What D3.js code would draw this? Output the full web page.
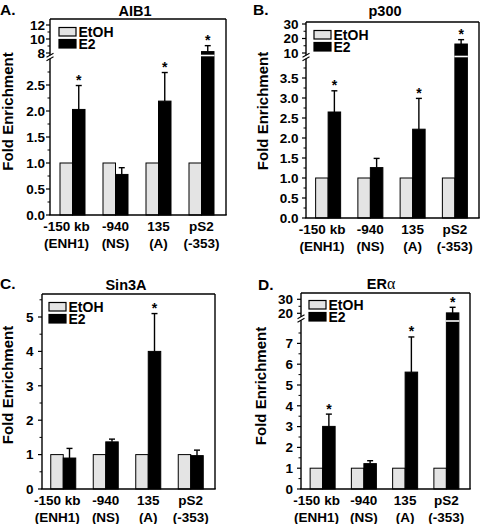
<!DOCTYPE html>
<html><head><meta charset="utf-8">
<script src="https://cdn.jsdelivr.net/npm/d3@7"></script>
<style>
html,body{margin:0;padding:0;background:#fff;}
svg{display:block;font-family:"Liberation Sans",Arial,sans-serif;font-weight:bold;}
</style></head>
<body>
<svg id="chart" width="482" height="524"></svg>
<script>
// ---------- data ----------
const categoriesTop = ["-150 kb", "-940", "135", "pS2"];
const categoriesBottom = ["(ENH1)", "(NS)", "(A)", "(-353)"];
const seriesNames = ["EtOH", "E2"];

// A. AIB1
const aib1EtOH = [1, 1, 1, 1];
const aib1E2 = [2.03, 0.78, 2.19, 8.2];
const aib1E2Err = [0.46, 0.13, 0.55, 0.85];
const aib1Sig = [true, false, true, true];
const aib1TicksLow = [0, 0.5, 1, 1.5, 2, 2.5];
const aib1TickLabelsLow = ["0.0", "0.5", "1.0", "1.5", "2.0", "2.5"];
const aib1TicksHigh = [8, 10, 12];
const aib1TickLabelsHigh = ["8", "10", "12"];

// B. p300
const p300EtOH = [1, 1, 1, 1];
const p300E2 = [2.65, 1.26, 2.22, 16.2];
const p300E2Err = [0.53, 0.23, 0.77, 3.0];
const p300Sig = [true, false, true, true];
const p300TicksLow = [0, 0.5, 1, 1.5, 2, 2.5, 3, 3.5];
const p300TickLabelsLow = ["0.0", "0.5", "1.0", "1.5", "2.0", "2.5", "3.0", "3.5"];
const p300TicksHigh = [10, 20, 30];
const p300TickLabelsHigh = ["10", "20", "30"];

// C. Sin3A
const sin3aEtOH = [1, 1, 1, 1];
const sin3aE2 = [0.9, 1.37, 4.0, 0.97];
const sin3aE2Err = [0.28, 0.08, 1.1, 0.16];
const sin3aSig = [false, false, true, false];
const sin3aTicks = [0, 1, 2, 3, 4, 5];
const sin3aTickLabels = ["0", "1", "2", "3", "4", "5"];

// D. ERα
const eraEtOH = [1, 1, 1, 1];
const eraE2 = [3.01, 1.22, 5.62, 20.3];
const eraE2Err = [0.59, 0.14, 1.69, 4.0];
const eraSig = [true, false, true, true];
const eraTicksLow = [0, 1, 2, 3, 4, 5, 6, 7];
const eraTickLabelsLow = ["0", "1", "2", "3", "4", "5", "6", "7"];
const eraTicksHigh = [20, 30];
const eraTickLabelsHigh = ["20", "30"];

// ---------- layout ----------
const panels = [
  { letter: "A.", letterPos: [0, 15], title: ["AIB1"], titlePos: [135, 15.5],
    box: [50, 19, 226, 215], band: [51, 223], labelGap: 5,
    etoh: aib1EtOH, e2: aib1E2, err: aib1E2Err, sig: aib1Sig,
    low: { domain: [0, 2.5], range: [215, 85], ticks: aib1TicksLow, labels: aib1TickLabelsLow, minorStep: 0.25, max: 2.9 },
    high: { domain: [8, 12], range: [53, 25], ticks: aib1TicksHigh, labels: aib1TickLabelsHigh, minorStep: 1 },
    breakY: 57, barBreakY: 55.5, legend: [59, 27.5], ylab: [13, 111.5] },
  { letter: "B.", letterPos: [253, 15], title: ["p300"], titlePos: [385, 15.5],
    box: [306, 22, 479, 218], band: [307, 476], labelGap: 7.5,
    etoh: p300EtOH, e2: p300E2, err: p300E2Err, sig: p300Sig,
    low: { domain: [0, 3.5], range: [218, 78], ticks: p300TicksLow, labels: p300TickLabelsLow, minorStep: 0.25, max: 3.9 },
    high: { domain: [10, 30], range: [53, 24], ticks: p300TicksHigh, labels: p300TickLabelsHigh, minorStep: 5 },
    breakY: 57, barBreakY: 56.5, legend: [314, 30.5], ylab: [267.5, 111] },
  { letter: "C.", letterPos: [0, 289], title: ["Sin3A"], titlePos: [126, 290],
    box: [42, 294, 215, 489], band: [42, 212], labelGap: 8.5,
    etoh: sin3aEtOH, e2: sin3aE2, err: sin3aE2Err, sig: sin3aSig,
    low: { domain: [0, 5], range: [489, 317], ticks: sin3aTicks, labels: sin3aTickLabels, minorStep: 0.5, max: 5.6 },
    high: null, legend: [49, 302.5], ylab: [13, 385] },
  { letter: "D.", letterPos: [258, 290], title: ["ER", "α"], titlePos: [381, 289],
    box: [301, 293, 470, 489], band: [302, 467], labelGap: 8,
    etoh: eraEtOH, e2: eraE2, err: eraE2Err, sig: eraSig,
    low: { domain: [0, 7], range: [489, 343.4], ticks: eraTicksLow, labels: eraTickLabelsLow, minorStep: 0.5, max: 7.8 },
    high: { domain: [20, 30], range: [313.3, 299.3], ticks: eraTicksHigh, labels: eraTickLabelsHigh, minorStep: 5 },
    breakY: 318.5, barBreakY: 321, legend: [309, 300.5], ylab: [266, 386] }
];

const svg = d3.select("#chart");
const BAR_FILL_ETOH = "#e4e4e4";

panels.forEach(p => {
  const g = svg.append("g");
  const [bx0, by0, bx1, by1] = p.box;

  const yLow = d3.scaleLinear().domain(p.low.domain).range(p.low.range);
  const yHigh = p.high ? d3.scaleLinear().domain(p.high.domain).range(p.high.range) : null;
  const y = v => (yHigh && v > p.low.max) ? yHigh(v) : yLow(v);

  const x = d3.scaleBand().domain(categoriesTop).range(p.band).padding(0);
  const xs = d3.scaleBand().domain(seriesNames).range([-12.5, 12.5]).padding(0);
  const cx = c => x(c) + x.bandwidth() / 2;

  // panel letter & title
  g.append("text").attr("x", p.letterPos[0]).attr("y", p.letterPos[1])
    .attr("font-size", 15.5).text(p.letter);
  const t = g.append("text").attr("x", p.titlePos[0]).attr("y", p.titlePos[1])
    .attr("text-anchor", "middle").attr("font-size", 14.5);
  t.append("tspan").text(p.title[0]);
  if (p.title[1]) t.append("tspan").attr("font-family", "'Liberation Serif',serif")
    .attr("font-weight", "normal").attr("font-size", 16).text(p.title[1]);

  // y label
  g.append("text").attr("transform", `translate(${p.ylab[0]},${p.ylab[1]}) rotate(-90)`)
    .attr("text-anchor", "middle").attr("font-size", 15).text("Fold Enrichment");

  // bars
  categoriesTop.forEach((c, i) => {
    const xc = cx(c);
    g.append("rect").attr("x", xc + xs("EtOH")).attr("width", xs.bandwidth())
      .attr("y", y(p.etoh[i])).attr("height", yLow(0) - y(p.etoh[i]))
      .attr("fill", BAR_FILL_ETOH).attr("stroke", "#000").attr("stroke-width", 1);
    const top = y(p.e2[i]);
    const ex = xc + xs("E2") + xs.bandwidth() / 2;
    const eTop = y(p.e2[i] + p.err[i]);
    g.append("line").attr("x1", ex).attr("x2", ex).attr("y1", top).attr("y2", eTop)
      .attr("stroke", "#000").attr("stroke-width", 1.4);
    g.append("line").attr("x1", ex - 3).attr("x2", ex + 3).attr("y1", eTop).attr("y2", eTop)
      .attr("stroke", "#000").attr("stroke-width", 1.4);
    g.append("rect").attr("x", xc + xs("E2")).attr("width", xs.bandwidth())
      .attr("y", top).attr("height", yLow(0) - top)
      .attr("fill", "#000").attr("stroke", "#000").attr("stroke-width", 1);
    if (yHigh && p.e2[i] > p.low.max) {
      g.append("line").attr("x1", xc + xs("E2") - 0.5).attr("x2", xc + xs("E2") + xs.bandwidth() + 0.5)
        .attr("y1", p.barBreakY).attr("y2", p.barBreakY)
        .attr("stroke", "#fff").attr("stroke-width", 1.6);
    }
    if (p.sig[i]) {
      g.append("text").attr("x", ex).attr("y", eTop - 0.5).attr("text-anchor", "middle")
        .attr("font-size", 14).text("*");
    }
  });

  const line = (x1, y1, x2, y2, w) => g.append("line").attr("x1", x1).attr("y1", y1)
    .attr("x2", x2).attr("y2", y2).attr("stroke", "#000").attr("stroke-width", w || 1.4);
  line(bx0, by0, bx1, by0);
  line(bx1, by0, bx1, by1);
  line(bx0 - 0.7, by1, bx1 + 0.7, by1);

  if (yHigh) {
    line(bx0, by1, bx0, p.breakY + 1.8);
    line(bx0, p.breakY - 1.8, bx0, by0);
    [-1.8, 1.8].forEach(d => line(bx0 - 3.5, p.breakY + d + 2, bx0 + 3.5, p.breakY + d - 2, 1.1));
  } else {
    line(bx0, by1, bx0, by0);
  }

  const drawTicks = (scale, ticks, labels, minorStep, lo, hi) => {
    ticks.forEach((v, k) => {
      line(bx0 - 4, scale(v), bx0, scale(v), 1.2);
      g.append("text").attr("x", bx0 - p.labelGap).attr("y", scale(v))
        .attr("dy", "0.36em").attr("text-anchor", "end").attr("font-size", 13.5).text(labels[k]);
    });
    d3.range(lo, hi + 1e-9, minorStep).forEach(v => {
      if (ticks.some(tk => Math.abs(tk - v) < 1e-9)) return;
      line(bx0 - 2.5, scale(v), bx0, scale(v), 1);
    });
  };
  drawTicks(yLow, p.low.ticks, p.low.labels, p.low.minorStep, p.low.domain[0], p.low.max);
  if (yHigh) {
    const hiMax = yHigh.invert(by0 + 1);
    const hiMin = yHigh.invert(p.breakY - 2);
    const start = Math.ceil(hiMin / p.high.minorStep) * p.high.minorStep;
    drawTicks(yHigh, p.high.ticks, p.high.labels, p.high.minorStep, start, hiMax);
  }

  categoriesTop.forEach((c, i) => {
    const xc = cx(c) + (i === 0 ? -6 : 0);
    g.append("text").attr("x", xc).attr("y", by1 + 11.5).attr("dy", "0.36em")
      .attr("text-anchor", "middle").attr("font-size", 13.5).text(c);
    g.append("text").attr("x", xc).attr("y", by1 + 28).attr("dy", "0.36em")
      .attr("text-anchor", "middle").attr("font-size", 13.5).text(categoriesBottom[i]);
  });

  // legend
  const [lx, ly] = p.legend;
  seriesNames.forEach((s, k) => {
    const yy = ly + k * 12;
    g.append("rect").attr("x", lx).attr("y", yy).attr("width", 17).attr("height", 8.5)
      .attr("fill", s === "EtOH" ? BAR_FILL_ETOH : "#000").attr("stroke", "#000").attr("stroke-width", 1.2);
    g.append("text").attr("x", lx + 19.5).attr("y", yy + 9).attr("font-size", 14).text(s);
  });
});
</script>
</body></html>
